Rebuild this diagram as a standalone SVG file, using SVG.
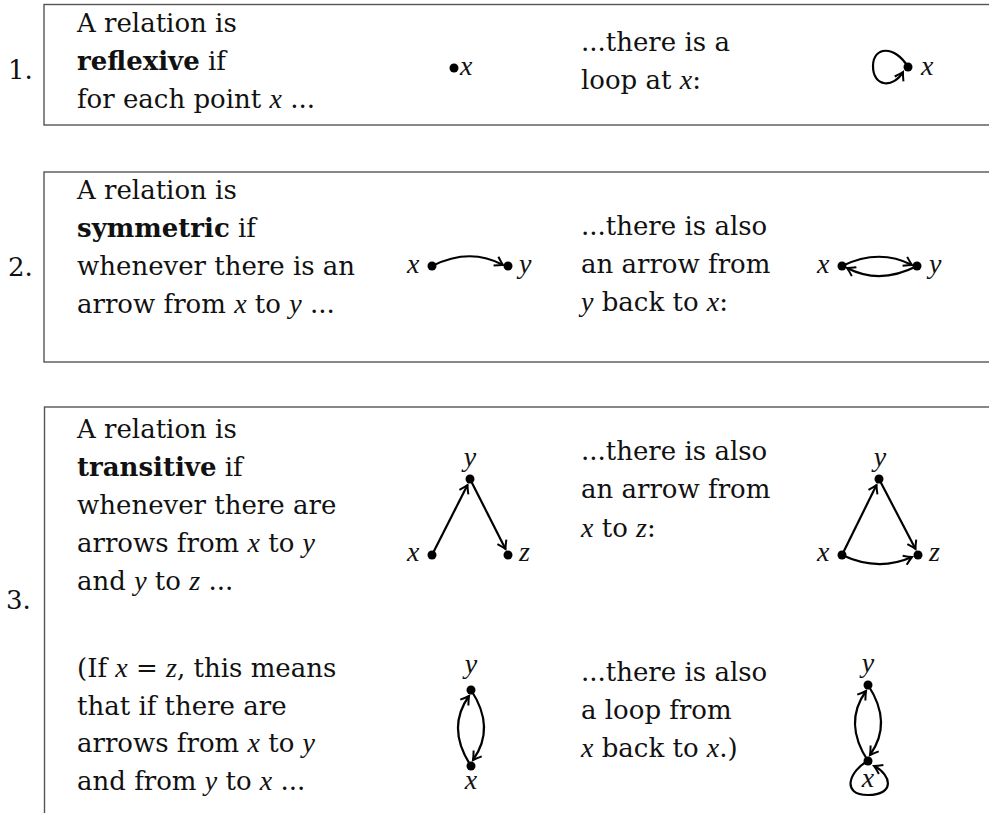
<svg xmlns="http://www.w3.org/2000/svg" width="989" height="813" viewBox="0 0 989 813">
<defs>
<style>
.t{font-family:"DejaVu Serif","Liberation Serif",serif;font-size:26px;fill:#111}
.m{font-family:"Liberation Serif","DejaVu Serif",serif;font-style:italic;font-size:28px}
.b{font-weight:bold}
.box{fill:none;stroke:#555;stroke-width:1.4}
.e{fill:none;stroke:#000;stroke-width:2.2;marker-end:url(#ah)}
.d{fill:#000}
</style>
<marker id="ah" markerUnits="userSpaceOnUse" markerWidth="16" markerHeight="16" refX="0" refY="0" viewBox="-10 -8 12 16" orient="auto" overflow="visible">
<path d="M -8,-5 Q -3,-1.5 0,0 Q -3,1.5 -8,5" fill="none" stroke="#000" stroke-width="2"/>
</marker>
</defs>
<rect width="989" height="813" fill="#fff"/>

<g id="row1">
<rect class="box" x="44" y="4.5" width="960" height="120.5"/>
<text class="t" x="8" y="79">1.</text>
<text class="t" x="77" y="32">A relation is</text>
<text class="t" x="77" y="70"><tspan class="b">reflexive</tspan> if</text>
<text class="t" x="77" y="108">for each point <tspan class="m">x</tspan> ...</text>
<text class="t" x="581" y="51">...there is a</text>
<text class="t" x="581" y="89">loop at <tspan class="m">x</tspan>:</text>
</g>
<g id="node-r1-x"><circle class="d" cx="454" cy="68" r="4.5"/><text class="t m" x="460" y="75">x</text></g>
<g id="node-r1-x2"><circle class="d" cx="908" cy="67" r="4.5"/><text class="t m" x="921" y="75">x</text></g>

<g id="row2">
<rect class="box" x="44" y="172" width="960" height="190"/>
<text class="t" x="8" y="276">2.</text>
<text class="t" x="77" y="199">A relation is</text>
<text class="t" x="77" y="237"><tspan class="b">symmetric</tspan> if</text>
<text class="t" x="77" y="275">whenever there is an</text>
<text class="t" x="77" y="313">arrow from <tspan class="m">x</tspan> to <tspan class="m">y</tspan> ...</text>
<text class="t" x="581" y="235">...there is also</text>
<text class="t" x="581" y="273">an arrow from</text>
<text class="t" x="581" y="311"><tspan class="m">y</tspan> back to <tspan class="m">x</tspan>:</text>
</g>
<g id="node-r2-x"><circle class="d" cx="432" cy="266" r="4.5"/><text class="t m" x="407" y="273">x</text></g>
<g id="node-r2-y"><circle class="d" cx="508" cy="266" r="4.5"/><text class="t m" x="519" y="273">y</text></g>
<g id="node-r2-x2"><circle class="d" cx="842" cy="266" r="4.5"/><text class="t m" x="817" y="273">x</text></g>
<g id="node-r2-y2"><circle class="d" cx="917" cy="266" r="4.5"/><text class="t m" x="929" y="273">y</text></g>

<g id="row3">
<rect class="box" x="44.5" y="407" width="960" height="430"/>
<text class="t" x="6" y="609">3.</text>
<text class="t" x="77" y="438">A relation is</text>
<text class="t" x="77" y="476"><tspan class="b">transitive</tspan> if</text>
<text class="t" x="77" y="514">whenever there are</text>
<text class="t" x="77" y="552">arrows from <tspan class="m">x</tspan> to <tspan class="m">y</tspan></text>
<text class="t" x="77" y="590">and <tspan class="m">y</tspan> to <tspan class="m">z</tspan> ...</text>
<text class="t" x="77" y="677">(If <tspan class="m">x</tspan> = <tspan class="m">z</tspan>, this means</text>
<text class="t" x="77" y="715">that if there are</text>
<text class="t" x="77" y="752">arrows from <tspan class="m">x</tspan> to <tspan class="m">y</tspan></text>
<text class="t" x="77" y="790">and from <tspan class="m">y</tspan> to <tspan class="m">x</tspan> ...</text>
<text class="t" x="581" y="460">...there is also</text>
<text class="t" x="581" y="498">an arrow from</text>
<text class="t" x="581" y="537"><tspan class="m">x</tspan> to <tspan class="m">z</tspan>:</text>
<text class="t" x="581" y="681">...there is also</text>
<text class="t" x="581" y="719">a loop from</text>
<text class="t" x="581" y="757"><tspan class="m">x</tspan> back to <tspan class="m">x</tspan>.)</text>
</g>
<g id="node-r3-y"><circle class="d" cx="470" cy="479" r="4.5"/><text class="t m" x="470" y="466" text-anchor="middle">y</text></g>
<g id="node-r3-x"><circle class="d" cx="432" cy="555" r="4.5"/><text class="t m" x="407" y="561">x</text></g>
<g id="node-r3-z"><circle class="d" cx="508" cy="555" r="4.5"/><text class="t m" x="519" y="561">z</text></g>
<g id="node-r3-y2"><circle class="d" cx="879" cy="479" r="4.5"/><text class="t m" x="880" y="466" text-anchor="middle">y</text></g>
<g id="node-r3-x2"><circle class="d" cx="842" cy="555" r="4.5"/><text class="t m" x="817" y="561">x</text></g>
<g id="node-r3-z2"><circle class="d" cx="918" cy="555" r="4.5"/><text class="t m" x="929" y="561">z</text></g>
<g id="node-r3-y3"><circle class="d" cx="471" cy="690" r="4.5"/><text class="t m" x="471" y="673" text-anchor="middle">y</text></g>
<g id="node-r3-x3"><circle class="d" cx="471" cy="766" r="4.5"/><text class="t m" x="471" y="789" text-anchor="middle">x</text></g>
<g id="node-r3-y4"><circle class="d" cx="868" cy="685" r="4.5"/><text class="t m" x="868" y="672" text-anchor="middle">y</text></g>
<g id="node-r3-x4"><circle class="d" cx="868" cy="761" r="4.5"/><text class="t m" x="868" y="787" text-anchor="middle">x</text></g>

<g id="connectors">
<path class="e" d="M 908,67 C 895,45 873,46 873,66 C 873,88 894,88 903,72"/>
<path class="e" d="M 432,266 Q 470,247 503,265"/>
<path class="e" d="M 842,266 Q 879,248 912,265"/>
<path class="e" d="M 917,266 Q 880,285 847,268"/>
<path class="e" d="M 432,555 L 467.5,485"/>
<path class="e" d="M 470,479 L 505.5,549"/>
<path class="e" d="M 842,555 L 876.5,485"/>
<path class="e" d="M 879,479 L 915.5,549"/>
<path class="e" d="M 842,555 Q 878,572 912,557"/>
<path class="e" d="M 471,766 Q 446,728 469,696"/>
<path class="e" d="M 471,690 Q 496,728 473,760"/>
<path class="e" d="M 868,761 Q 843,723 866,691"/>
<path class="e" d="M 868,685 Q 893,723 870,755"/>
<path class="e" d="M 868,761 C 850,770 840,795 868,795 C 895,795 892,775 874,766"/>
</g>
</svg>
